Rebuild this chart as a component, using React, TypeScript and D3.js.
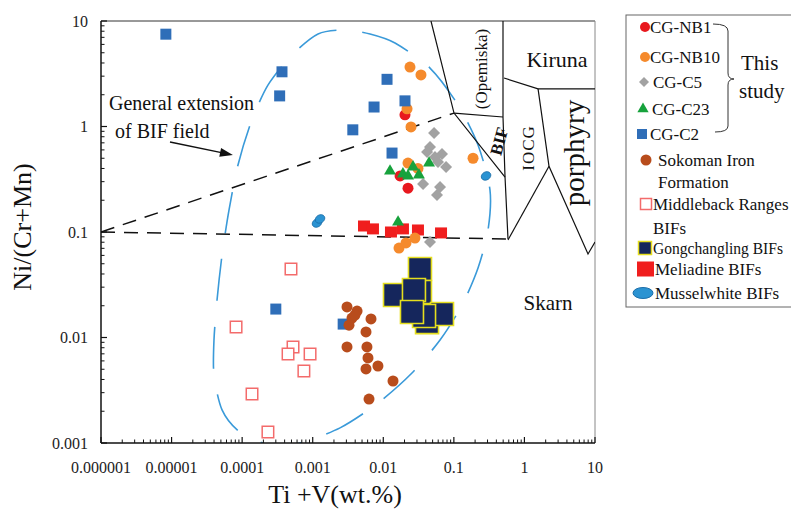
import React from "react";
import * as d3 from "d3";

const W = 791;
const H = 511;
const PLOT = { left: 101, right: 595, top: 21, bottom: 443 };
const FONT = "Liberation Serif";

const xTicks = [1e-6, 1e-5, 1e-4, 1e-3, 1e-2, 1e-1, 1, 10];
const xTickLabels = ["0.000001", "0.00001", "0.0001", "0.001", "0.01", "0.1", "1", "10"];
const yTicks = [0.001, 0.01, 0.1, 1, 10];
const yTickLabels = ["0.001", "0.01", "0.1", "1", "10"];

// [Ti+V (wt.%), Ni/(Cr+Mn)]
const cgNB1 = [[0.0203, 1.29], [0.0173, 0.34], [0.0224, 0.26]];
const cgNB10 = [
  [0.0239, 3.66], [0.0342, 3.08], [0.0217, 1.47], [0.0247, 0.99], [0.0224, 0.45],
  [0.031, 0.40], [0.187, 0.50], [0.0167, 0.0705], [0.021, 0.0787], [0.0281, 0.0877],
];
const cgC5 = [
  [0.0524, 0.867], [0.0459, 0.64], [0.0417, 0.573], [0.0679, 0.548], [0.054, 0.514],
  [0.0596, 0.461], [0.0775, 0.413], [0.0366, 0.285], [0.0637, 0.267], [0.0577, 0.224],
  [0.0459, 0.0804],
];
const cgC23 = [
  [0.01245, 0.378], [0.019, 0.355], [0.0224, 0.34], [0.0264, 0.413], [0.032, 0.347],
  [0.0445, 0.45], [0.0162, 0.124],
];
const cgC2 = [
  [8.3e-6, 7.5], [3.67e-4, 3.3], [3.4e-4, 1.95], [0.0113, 2.8], [0.0074, 1.53],
  [0.0203, 1.75], [0.0037, 0.93], [0.0133, 0.56], [3.0e-4, 0.0186], [0.0027, 0.0134],
];
const sokoman = [
  [0.00306, 0.0195], [0.00425, 0.0178], [0.0036, 0.0153], [0.00327, 0.0131], [0.0067, 0.015],
  [0.00569, 0.0113], [0.00306, 0.00813], [0.00587, 0.00813], [0.00607, 0.0064], [0.00569, 0.00503],
  [0.0084, 0.00537], [0.01374, 0.00387], [0.00628, 0.00261], [0.00397, 0.0163],
];
const middleback = [
  [4.92e-4, 0.0446], [8.2e-5, 0.0126], [5.26e-4, 0.00813], [4.47e-4, 0.00698],
  [9.17e-4, 0.00698], [7.5e-4, 0.00481], [1.38e-4, 0.00291], [2.32e-4, 0.00127],
];
const gongchangling = [
  [0.0331, 0.0446], [0.0331, 0.027], [0.01466, 0.0253], [0.0272, 0.0282],
  [0.0417, 0.014], [0.0679, 0.0167], [0.0378, 0.016], [0.0255, 0.01746],
];
const meliadine = [
  [0.00533, 0.114], [0.00714, 0.107], [0.01285, 0.1], [0.019, 0.107], [0.031, 0.1045], [0.0658, 0.098],
];
const musselwhite = [[0.286, 0.34], [0.00115, 0.1217], [0.00127, 0.133]];

// General extension of BIF field (outline)
const bifFieldOutline = [
  [0.00287, 8.22], [0.00649, 7.53], [0.01466, 6.19], [0.0459, 3.58], [0.1146, 1.6],
  [0.22, 0.668], [0.325, 0.25], [0.305, 0.1045], [0.22, 0.0456], [0.1306, 0.0203],
  [0.0637, 0.00946], [0.0255, 0.00461], [0.0084, 0.00239], [0.00244, 0.00139],
  [6.6e-4, 0.001], [2.65e-4, 0.00094], [9.3e-5, 0.00127], [5.19e-5, 0.00206],
  [3.99e-5, 0.00441], [3.99e-5, 0.00946], [4.41e-5, 0.0227], [5.19e-5, 0.0605],
  [6.52e-5, 0.162], [8.73e-5, 0.432], [1.34e-4, 1.1], [2.32e-4, 2.47], [5.09e-4, 4.76],
  [0.00119, 7.53],
];
const bifLimitUpper = [[1e-6, 0.1], [0.1005, 1.34]];
const bifLimitLower = [[1e-6, 0.1], [0.585, 0.0859]];
const fieldBoundaries = [
  [[0.0474, 10], [0.1005, 1.34], [0.531, 0.332]],
  [[0.1005, 1.34], [0.497, 1.23]],
  [[0.497, 10], [0.497, 1.23], [0.531, 0.332], [0.585, 0.0859]],
  [[0.514, 2.88], [1.56, 2.27], [10, 2.27]],
  [[1.56, 2.27], [2.23, 0.42], [7.96, 0.0618], [10, 0.0804]],
  [[2.23, 0.42], [0.585, 0.084]],
];
const arrowLine = [[9.5e-6, 0.713], [7.4e-5, 0.537]];

const C = {
  nb1: "#E8181E",
  nb10: "#F58A2C",
  c5: "#A2A2A2",
  c23: "#17A23C",
  c2: "#2F6EB8",
  sok: "#B84C1C",
  mid: "#F36B6B",
  gongFill: "#15265C",
  gongStroke: "#E5DE1E",
  mel: "#F01E1E",
  mus: "#2B93D2",
  musStroke: "#1C6FAA",
  ellipse: "#3A9AD9",
};

const tf = { fontFamily: FONT };

export default function App() {
  const x = d3.scaleLog().domain([1e-6, 10]).range([PLOT.left, PLOT.right]);
  const y = d3.scaleLog().domain([0.001, 10]).range([PLOT.bottom, PLOT.top]);
  const line = d3.line<number[]>().x((d) => x(d[0])).y((d) => y(d[1]));
  const outline = d3
    .line<number[]>()
    .x((d) => x(d[0]))
    .y((d) => y(d[1]))
    .curve(d3.curveCardinalClosed.tension(0.2));

  const circle = d3.symbol(d3.symbolCircle, 95)();
  const tri = d3.symbol(d3.symbolTriangle, 62)();
  const sq = (s: number) => `M${-s / 2},${-s / 2}h${s}v${s}h${-s}Z`;
  const dia = (r: number) => `M0,${-r}L${r},0L0,${r}L${-r},0Z`;

  const xMinor: number[] = [];
  for (let e = -6; e < 1; e++) for (let k = 2; k <= 9; k++) xMinor.push(k * Math.pow(10, e));
  const yMinor: number[] = [];
  for (let e = -3; e < 1; e++) for (let k = 2; k <= 9; k++) yMinor.push(k * Math.pow(10, e));

  const a0 = arrowLine[0], a1 = arrowLine[1];
  const ax0 = x(a0[0]), ay0 = y(a0[1]), ax1 = x(a1[0]), ay1 = y(a1[1]);
  const ang = Math.atan2(ay1 - ay0, ax1 - ax0);
  const hl = 13, hw = 4.5;
  const head = [
    [ax1, ay1],
    [ax1 - hl * Math.cos(ang) + hw * Math.sin(ang), ay1 - hl * Math.sin(ang) - hw * Math.cos(ang)],
    [ax1 - hl * Math.cos(ang) - hw * Math.sin(ang), ay1 - hl * Math.sin(ang) + hw * Math.cos(ang)],
  ];

  const t = (d: number[]) => `translate(${x(d[0])},${y(d[1])})`;

  const legendItems = [
    { key: "nb1", y: 27, tx: 650, label: "CG-NB1" },
    { key: "nb10", y: 57, tx: 650, label: "CG-NB10" },
    { key: "c5", y: 82, tx: 653, label: "CG-C5" },
    { key: "c23", y: 109, tx: 652, label: "CG-C23" },
    { key: "c2", y: 134, tx: 650, label: "CG-C2" },
    { key: "sok", y: 160, tx: 658, label: "Sokoman Iron", label2: "Formation" },
    { key: "mid", y: 204, tx: 653, label: "Middleback Ranges", label2: "BIFs" },
    { key: "gong", y: 248, tx: 653, label: "Gongchangling BIFs", fit: 130 },
    { key: "mel", y: 269, tx: 655, label: "Meliadine BIFs" },
    { key: "mus", y: 293, tx: 655, label: "Musselwhite BIFs" },
  ];

  const legendSymbol = (key: string, ly: number) => {
    switch (key) {
      case "nb1":
        return <circle cx={645} cy={ly} r={5} fill={C.nb1} />;
      case "nb10":
        return <circle cx={645} cy={ly} r={5} fill={C.nb10} />;
      case "c5":
        return <path transform={`translate(644,${ly})`} d={dia(5)} fill={C.c5} />;
      case "c23":
        return <path transform={`translate(643,${ly})`} d={d3.symbol(d3.symbolTriangle, 55)()!} fill={C.c23} />;
      case "c2":
        return <path transform={`translate(642,${ly})`} d={sq(10)} fill={C.c2} />;
      case "sok":
        return <circle cx={646} cy={ly} r={5.5} fill={C.sok} />;
      case "mid":
        return <path transform={`translate(646,${ly})`} d={sq(11)} fill="#fff" stroke={C.mid} strokeWidth={1.5} />;
      case "gong":
        return <path transform={`translate(645,${ly})`} d={sq(13)} fill={C.gongFill} stroke={C.gongStroke} strokeWidth={1.5} />;
      case "mel":
        return <rect x={637} y={ly - 7.5} width={17} height={15} fill={C.mel} />;
      case "mus":
        return <ellipse cx={643} cy={ly} rx={10} ry={5.5} fill={C.mus} stroke={C.musStroke} strokeWidth={1} />;
    }
    return null;
  };

  return (
    <svg
      width={W}
      height={H}
      style={{ position: "absolute", left: 0, top: 0, background: "#fff", fontFamily: FONT }}
    >
      <defs>
        <clipPath id="plotClip">
          <rect x={PLOT.left} y={PLOT.top} width={PLOT.right - PLOT.left} height={PLOT.bottom - PLOT.top} />
        </clipPath>
      </defs>
      <rect width={W} height={H} fill="#fff" />

      {/* frame */}
      <line x1={PLOT.left} x2={PLOT.right} y1={PLOT.top} y2={PLOT.top} stroke="#333" strokeWidth={1} />
      <line x1={PLOT.right} x2={PLOT.right} y1={PLOT.top} y2={PLOT.bottom} stroke="#888" strokeWidth={1} />

      <g clipPath="url(#plotClip)">
        <path d={outline(bifFieldOutline)!} fill="none" stroke={C.ellipse} strokeWidth={1.6} strokeDasharray="42,26" />
        <path d={line(bifLimitUpper)!} fill="none" stroke="#111" strokeWidth={1.5} strokeDasharray="14,9" />
        <path d={line(bifLimitLower)!} fill="none" stroke="#111" strokeWidth={1.5} strokeDasharray="14,9" />
        {fieldBoundaries.map((b, i) => (
          <path key={i} d={line(b)!} fill="none" stroke="#111" strokeWidth={1.2} />
        ))}
      </g>

      {/* field labels */}
      <text style={tf} x={557} y={67} fontSize={22} textAnchor="middle" fill="#111">Kiruna</text>
      <text style={tf} x={548} y={310} fontSize={21} textAnchor="middle" fill="#111">Skarn</text>
      <text style={tf} transform="translate(584,153) rotate(-90)" fontSize={29} textAnchor="middle" fill="#111">porphyry</text>
      <text style={tf} transform="translate(534,148) rotate(-90)" fontSize={17} textAnchor="middle" letterSpacing={1} fill="#111">IOCG</text>
      <text style={tf} transform="translate(487,69) rotate(-90)" fontSize={17} textAnchor="middle" fill="#111">(Opemiska)</text>
      <text style={tf} transform="translate(499,141) rotate(-75)" fontSize={17} fontWeight="bold" textAnchor="middle" dy="0.35em" fill="#111">BIF</text>

      <text style={tf} x={109} y={110} fontSize={20} fill="#111">General extension</text>
      <text style={tf} x={115} y={138} fontSize={20} fill="#111">of BIF field</text>
      <line x1={ax0} y1={ay0} x2={ax1 - 8 * Math.cos(ang)} y2={ay1 - 8 * Math.sin(ang)} stroke="#111" strokeWidth={1.5} />
      <polygon points={head.map((p) => p.join(",")).join(" ")} fill="#111" />

      {/* data */}
      <g>
        {middleback.map((d, i) => (
          <path key={i} transform={t(d)} d={sq(11.5)} fill="#fff" stroke={C.mid} strokeWidth={1.5} />
        ))}
        {meliadine.map((d, i) => (
          <rect key={i} x={x(d[0]) - 6} y={y(d[1]) - 5.5} width={12} height={11} fill={C.mel} />
        ))}
        {gongchangling.map((d, i) => (
          <path key={i} transform={t(d)} d={sq(23)} fill={C.gongFill} stroke={C.gongStroke} strokeWidth={1.6} />
        ))}
        {cgC5.map((d, i) => (
          <path key={i} transform={t(d)} d={dia(6)} fill={C.c5} />
        ))}
        {cgNB1.map((d, i) => (
          <path key={i} transform={t(d)} d={circle!} fill={C.nb1} />
        ))}
        {cgNB10.map((d, i) => (
          <path key={i} transform={t(d)} d={circle!} fill={C.nb10} />
        ))}
        {cgC23.map((d, i) => (
          <path key={i} transform={t(d)} d={tri!} fill={C.c23} />
        ))}
        {cgC2.map((d, i) => (
          <path key={i} transform={t(d)} d={sq(11)} fill={C.c2} />
        ))}
        {sokoman.map((d, i) => (
          <path key={i} transform={t(d)} d={circle!} fill={C.sok} />
        ))}
        {musselwhite.map((d, i) => (
          <ellipse key={i} cx={x(d[0])} cy={y(d[1])} rx={5} ry={4} fill={C.mus} stroke={C.musStroke} strokeWidth={0.8} transform={`rotate(-30,${x(d[0])},${y(d[1])})`} />
        ))}
      </g>

      {/* axes */}
      <line x1={PLOT.left} x2={PLOT.right} y1={PLOT.bottom} y2={PLOT.bottom} stroke="#111" strokeWidth={1.5} />
      <line x1={PLOT.left} x2={PLOT.left} y1={PLOT.top} y2={PLOT.bottom} stroke="#111" strokeWidth={1.5} />
      {xTicks.map((v, i) => (
        <g key={i}>
          <line x1={x(v)} x2={x(v)} y1={PLOT.bottom} y2={PLOT.bottom - 6} stroke="#111" strokeWidth={1.2} />
          <text style={tf} x={x(v)} y={473} fontSize={16} textAnchor="middle" fill="#222">{xTickLabels[i]}</text>
        </g>
      ))}
      {xMinor.map((v, i) => (
        <line key={i} x1={x(v)} x2={x(v)} y1={PLOT.bottom} y2={PLOT.bottom - 3.5} stroke="#111" strokeWidth={1} />
      ))}
      {yTicks.map((v, i) => (
        <g key={i}>
          <line x1={PLOT.left} x2={PLOT.left + 6} y1={y(v)} y2={y(v)} stroke="#111" strokeWidth={1.2} />
          <text style={tf} x={88} y={y(v)} dy="0.35em" fontSize={16} textAnchor="end" fill="#222">{yTickLabels[i]}</text>
        </g>
      ))}
      {yMinor.map((v, i) => (
        <line key={i} x1={PLOT.left} x2={PLOT.left + 3.5} y1={y(v)} y2={y(v)} stroke="#111" strokeWidth={1} />
      ))}
      <text style={tf} x={335} y={503} fontSize={26} textAnchor="middle" fill="#111">Ti +V(wt.%)</text>
      <text style={tf} transform="translate(31,227) rotate(-90)" fontSize={26} textAnchor="middle" fill="#111">Ni/(Cr+Mn)</text>

      {/* legend */}
      <rect x={626} y={15} width={180} height={292} fill="#fff" stroke="#666" strokeWidth={1} />
      {legendItems.map((it) => (
        <g key={it.key}>
          {legendSymbol(it.key, it.y)}
          <text
            style={tf}
            x={it.tx}
            y={it.y}
            dy="0.35em"
            fontSize={it.fit ? 16 : 17}
            fill="#111"
            textLength={it.fit}
            lengthAdjust={it.fit ? "spacingAndGlyphs" : undefined}
          >
            {it.label}
          </text>
          {it.label2 ? (
            <text style={tf} x={it.tx} y={it.y + (it.key === "sok" ? 22 : 24)} dy="0.35em" fontSize={17} fill="#111">{it.label2}</text>
          ) : null}
        </g>
      ))}
      <path d="M713,24 Q728,24 728,31 L728,73 Q728,79 734,79 Q728,79 728,85 L728,126 Q728,132 715,132" fill="none" stroke="#333" strokeWidth={1} />
      <text style={tf} x={741} y={70} fontSize={21} fill="#111">This</text>
      <text style={tf} x={739} y={98} fontSize={21} fill="#111">study</text>
    </svg>
  );
}
